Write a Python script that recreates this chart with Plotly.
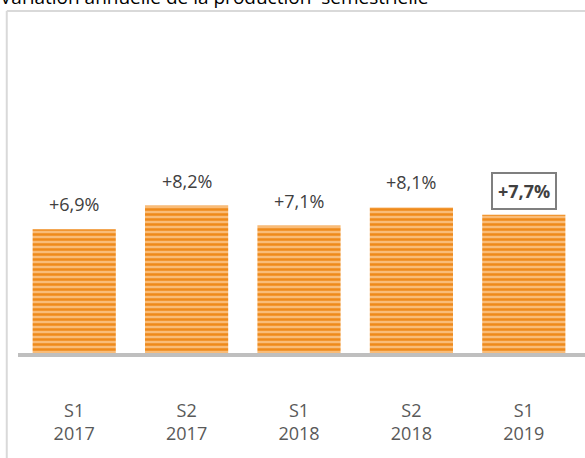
import plotly.graph_objects as go

categories = ["S1<br>2017", "S2<br>2017", "S1<br>2018", "S2<br>2018", "S1<br>2019"]
values = [6.9, 8.2, 7.1, 8.1, 7.7]
labels = ["+6,9%", "+8,2%", "+7,1%", "+8,1%", "+7,7%"]
title = "Variation annuelle de la production  semestrielle"

FONT = "Open Sans"

fig = go.Figure()
fig.add_trace(go.Bar(
    x=categories, y=values,
    width=0.74,
    marker=dict(
        color="#F9BE7C",
        line=dict(width=0),
        pattern=dict(shape="-", fgcolor="#EF8A1A", bgcolor="#F9BC78", size=5, solidity=0.5, fillmode="replace"),
    ),
    hoverinfo="skip",
))

annotations = []
for i, (c, v, t) in enumerate(zip(categories, values, labels)):
    last = i == len(categories) - 1
    annotations.append(dict(
        x=c, y=v, xref="x", yref="y",
        text=f"<b>{t}</b>" if last else t,
        showarrow=False, yanchor="bottom",
        yshift=5 if last else 13,
        font=dict(family=FONT, size=18, color="#404040"),
        bordercolor="#7F7F7F" if last else None,
        borderwidth=2 if last else 0,
        borderpad=5 if last else 0,
    ))

annotations.append(dict(
    x=0, y=1, xref="paper", yref="paper", xanchor="left", yanchor="bottom",
    xshift=-20, yshift=0,
    text=title, showarrow=False,
    font=dict(family=FONT, size=19, color="#000000"),
))

fig.update_layout(
    width=585, height=458,
    margin=dict(l=18, r=5, t=12, b=104, autoexpand=False),
    paper_bgcolor="white", plot_bgcolor="white",
    showlegend=False,
    annotations=annotations,
    shapes=[
        dict(type="line", xref="paper", yref="paper", x0=-0.02, x1=1.02, y0=1.003, y1=1.003,
             line=dict(color="#D9D9D9", width=2)),
        dict(type="line", xref="paper", yref="paper", x0=-0.02, x1=-0.02, y0=1.003, y1=-0.35,
             line=dict(color="#D9D9D9", width=2)),
        dict(type="line", xref="paper", yref="paper", x0=0, x1=1.02, y0=-0.003, y1=-0.003,
             line=dict(color="#BFBFBF", width=4), layer="above"),
    ],
)
fig.update_xaxes(
    showline=False,
    showgrid=False, zeroline=False, ticks="",
    automargin=False,
    ticklabelstandoff=44,
    tickfont=dict(family=FONT, size=18, color="#595959"),
)
fig.update_yaxes(visible=False, range=[0, 18.9], showgrid=False, zeroline=False, automargin=False)

fig.write_html("out.html", config={"displayModeBar": False},
               post_script="document.body.style.margin='0';")
